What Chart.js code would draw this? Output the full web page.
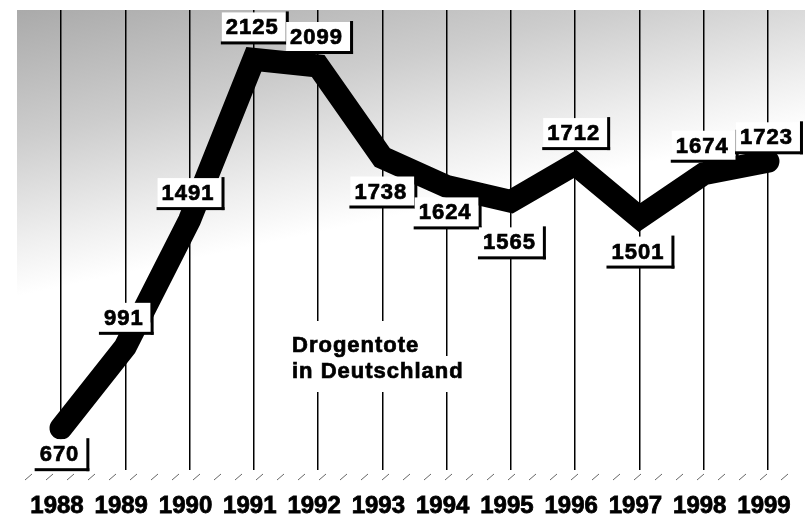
<!DOCTYPE html>
<html>
<head>
<meta charset="utf-8">
<script src="https://cdn.jsdelivr.net/npm/chart.js@4.4.1/dist/chart.umd.min.js"></script>
<style>
  html, body { margin: 0; padding: 0; background: #fff; }
  #wrap { width: 805px; height: 518px; }
</style>
</head>
<body>
<div id="wrap"><canvas id="c" width="805" height="518"></canvas></div>
<script>
// ---- data ----
const years = ['1988','1989','1990','1991','1992','1993','1994','1995','1996','1997','1998','1999'];
const deaths = [670, 991, 1491, 2125, 2099, 1738, 1624, 1565, 1712, 1501, 1674, 1723];
const titleLines = ['Drogentote', 'in Deutschland'];

// label placement (vertical offset of label centre from its point, px)
const labelDy = [25, -30, -28, -33, -30, 33, 25, 40, -32, 33, -29, -25];

const FONT = '"Liberation Sans", Arial, Helvetica, sans-serif';

const bgPlugin = {
  id: 'bg',
  beforeDraw(chart) {
    const ctx = chart.ctx;
    const W = chart.width, H = chart.height;
    const a = chart.chartArea;
    ctx.save();
    ctx.fillStyle = '#fff';
    ctx.fillRect(0, 0, W, H);
    const g = ctx.createLinearGradient(17, a.top, 75, a.top + 274);
    g.addColorStop(0, 'rgb(170,170,170)');
    g.addColorStop(0.45, 'rgb(205,205,205)');
    g.addColorStop(0.8, 'rgb(238,238,238)');
    g.addColorStop(1, 'rgb(255,255,255)');
    ctx.fillStyle = g;
    ctx.fillRect(17, a.top, W - 17, a.bottom - a.top);
    ctx.restore();
  },
  beforeDatasetsDraw(chart) {
    // decorative ragged base strokes
    const ctx = chart.ctx;
    const a = chart.chartArea;
    ctx.save();
    ctx.strokeStyle = '#666';
    ctx.lineWidth = 1;
    for (let x = a.left - 36; x < chart.width - 10; x += 21) {
      ctx.beginPath();
      ctx.moveTo(x, a.bottom + 10);
      ctx.lineTo(x + 7, a.bottom + 4);
      ctx.stroke();
    }
    ctx.restore();
  }
};

const labelPlugin = {
  id: 'labels',
  afterDatasetsDraw(chart) {
    const ctx = chart.ctx;
    const meta = chart.getDatasetMeta(0);
    ctx.save();
    ctx.font = 'bold 22px ' + FONT;
    ctx.letterSpacing = '1px';
    ctx.lineWidth = 0.7;
    ctx.strokeStyle = '#000';
    // title with white backing
    ctx.fillStyle = '#fff';
    ctx.fillRect(288, 321, 140, 37);
    ctx.fillRect(288, 356, 182, 36);
    ctx.fillStyle = '#000';
    ctx.textBaseline = 'alphabetic';
    ctx.textAlign = 'left';
    titleLines.forEach((t, k) => {
      ctx.fillText(t, 292, 352 + k * 26);
      ctx.strokeText(t, 292, 352 + k * 26);
    });

    // value labels
    meta.data.forEach((pt, i) => {
      const txt = String(deaths[i]);
      const w = ctx.measureText(txt).width - 1;
      const cx = pt.x - 2;
      const cy = pt.y + labelDy[i];
      const left = cx - w / 2;
      ctx.fillStyle = '#fff';
      ctx.fillRect(left - 4, cy - 14, w + 12, 30);
      ctx.fillStyle = '#000';
      ctx.fillRect(left + w + 8, cy - 15, 3, 33);
      ctx.fillRect(left - 5, cy + 15, w + 16, 3);
      ctx.fillText(txt, left, cy + 8);
      ctx.strokeText(txt, left, cy + 8);
    });
    ctx.restore();
  }
};

new Chart(document.getElementById('c'), {
  type: 'line',
  data: {
    labels: years,
    datasets: [{
      data: deaths,
      borderColor: '#000',
      borderWidth: 23,
      borderCapStyle: 'round',
      borderJoinStyle: 'miter',
      pointRadius: 0,
      tension: 0,
      fill: false,
      clip: false
    }]
  },
  options: {
    responsive: false,
    animation: false,
    events: [],
    layout: { autoPadding: false, padding: { left: 61, right: 37, top: 10, bottom: -24 } },
    plugins: { legend: { display: false }, tooltip: { enabled: false } },
    scales: {
      x: {
        type: 'category',
        offset: false,
        border: { display: false },
        grid: { color: '#000', lineWidth: 1.5, drawTicks: false },
        ticks: {
          color: '#000',
          font: { family: FONT, size: 24, weight: 'bold', lineHeight: 3 },
          textStrokeColor: '#000',
          textStrokeWidth: 0.8,
          padding: 0,
          maxRotation: 0,
          autoSkip: false,
          labelOffset: -4
        }
      },
      y: { display: false, min: 505, max: 2320 }
    }
  },
  plugins: [bgPlugin, labelPlugin]
});
</script>
</body>
</html>
